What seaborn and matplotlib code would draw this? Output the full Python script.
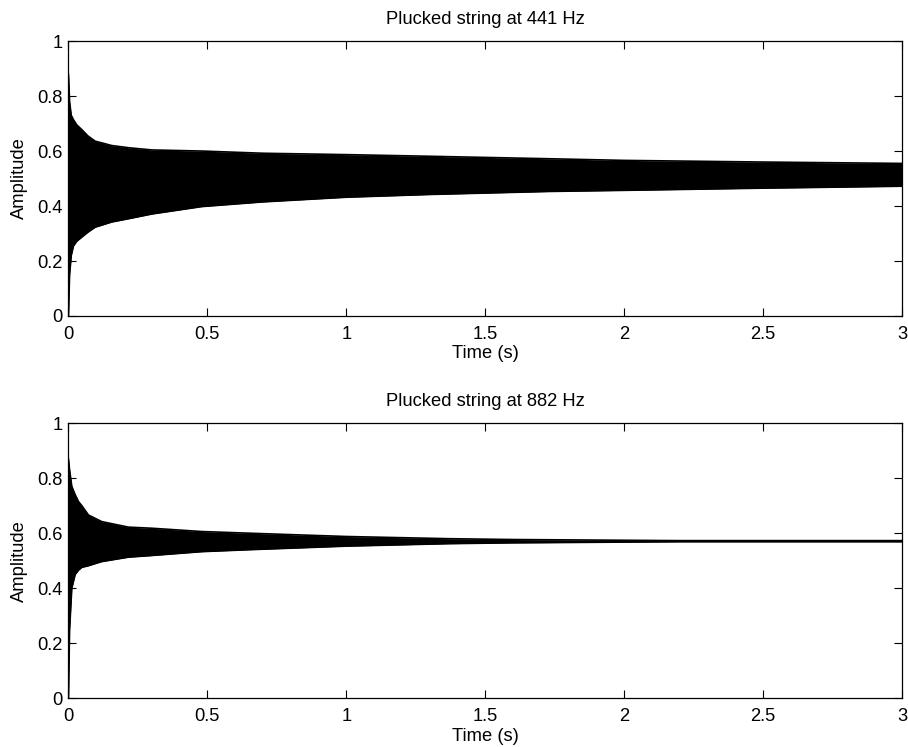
import matplotlib
matplotlib.use("Agg")
import matplotlib.pyplot as plt
import seaborn as sns
import pandas as pd
from matplotlib.ticker import FuncFormatter

# ---- data: envelope of the plucked-string waveforms ----
time_441 = [0, 0.004, 0.01, 0.018, 0.03, 0.048, 0.07, 0.096, 0.156, 0.217,
            0.3, 0.48, 0.7, 1.0, 1.3, 1.73, 2.0, 2.5, 3.0]
upper_441 = [0.88, 0.78, 0.73, 0.714, 0.695, 0.678, 0.655, 0.636, 0.620, 0.612,
             0.604, 0.600, 0.592, 0.587, 0.581, 0.572, 0.566, 0.560, 0.555]
lower_441 = [0.0, 0.15, 0.22, 0.255, 0.272, 0.287, 0.305, 0.323, 0.342, 0.354,
             0.371, 0.398, 0.415, 0.432, 0.442, 0.453, 0.457, 0.465, 0.472]

time_882 = [0, 0.004, 0.012, 0.024, 0.036, 0.048, 0.072, 0.12, 0.216, 0.3,
            0.48, 0.65, 1.0, 1.37, 1.6, 1.9, 2.2, 3.0]
upper_882 = [0.87, 0.83, 0.77, 0.74, 0.715, 0.70, 0.666, 0.642, 0.622, 0.618,
             0.606, 0.600, 0.588, 0.580, 0.577, 0.575, 0.573, 0.573]
lower_882 = [0.0, 0.25, 0.40, 0.45, 0.466, 0.476, 0.482, 0.497, 0.513, 0.519,
             0.533, 0.540, 0.553, 0.562, 0.565, 0.567, 0.569, 0.569]

titles = ["Plucked string at 441 Hz", "Plucked string at 882 Hz"]
x_ticks = [0, 0.5, 1, 1.5, 2, 2.5, 3]
y_ticks = [0, 0.2, 0.4, 0.6, 0.8, 1]

sns.set_style("white")
plt.rcParams["font.family"] = ["Liberation Sans", "DejaVu Sans"]
plt.rcParams["text.color"] = "black"
plt.rcParams["axes.labelcolor"] = "black"
FS = 13.2
plt.rcParams["font.size"] = FS

fig = plt.figure(figsize=(9.08, 7.47), dpi=100)
ax1 = fig.add_axes([0.0754, 0.577, 0.918, 0.368])
ax2 = fig.add_axes([0.0754, 0.065, 0.918, 0.3687])

panels = [(ax1, time_441, upper_441, lower_441, titles[0]),
          (ax2, time_882, upper_882, lower_882, titles[1])]

fmt = FuncFormatter(lambda v, p: ("%g" % v))

for ax, t, up, lo, title in panels:
    df = pd.DataFrame({"Time": t, "upper": up, "lower": lo})
    ax.fill_between(df["Time"], df["lower"], df["upper"], color="black",
                    linewidth=0)
    sns.lineplot(data=df, x="Time", y="upper", ax=ax, color="black",
                 linewidth=1.2)
    sns.lineplot(data=df, x="Time", y="lower", ax=ax, color="black",
                 linewidth=1.2)
    ax.set_xlim(0, 3)
    ax.set_ylim(0, 1)
    ax.set_xticks(x_ticks)
    ax.set_yticks(y_ticks)
    ax.xaxis.set_major_formatter(fmt)
    ax.yaxis.set_major_formatter(fmt)
    ax.tick_params(direction="in", length=5.5, width=0.8, top=True,
                   right=True, bottom=True, left=True, labelsize=FS,
                   colors="black")
    ax.tick_params(axis="x", pad=7)
    ax.tick_params(axis="y", pad=4)
    for s in ax.spines.values():
        s.set_visible(True)
        s.set_color("black")
        s.set_linewidth(0.9)
    ax.set_title(title, fontsize=FS, pad=12, color="black")
    ax.set_xlabel("Time (s)", fontsize=FS, labelpad=2)
    ax.set_ylabel("Amplitude", fontsize=FS, labelpad=7)

fig.savefig("out.png", dpi=100, facecolor="white")
